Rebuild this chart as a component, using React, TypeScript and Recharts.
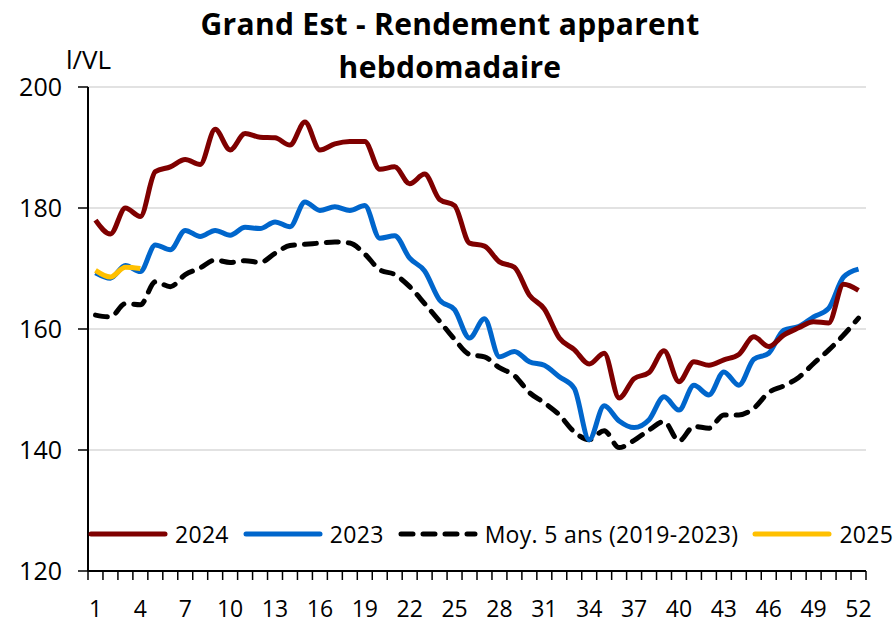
import { CartesianGrid, Line, LineChart, XAxis, YAxis } from 'recharts'

// weeks of the year
const weeks = [
  1, 2, 3, 4, 5, 6, 7, 8, 9, 10, 11, 12, 13, 14, 15, 16, 17, 18, 19, 20, 21, 22, 23, 24, 25, 26,
  27, 28, 29, 30, 31, 32, 33, 34, 35, 36, 37, 38, 39, 40, 41, 42, 43, 44, 45, 46, 47, 48, 49, 50,
  51, 52,
]

const y2024 = [
  178.0, 175.7, 180.0, 178.6, 186.0, 186.8, 188.0, 187.2, 193.0, 189.6, 192.3, 191.7, 191.6,
  190.4, 194.2, 189.6, 190.6, 191.0, 191.0, 186.4, 186.8, 184.0, 185.6, 181.4, 180.4, 174.2,
  173.7, 171.1, 170.2, 165.6, 163.3, 158.5, 156.6, 154.2, 156.0, 148.6, 151.8, 152.8, 156.4,
  151.3, 154.6, 154.0, 154.9, 155.8, 158.7, 157.1, 159.0, 160.2, 161.2, 161.0, 167.4, 166.4,
]

const y2023 = [
  169.3, 168.4, 170.5, 169.5, 173.9, 173.1, 176.3, 175.3, 176.3, 175.5, 176.8, 176.6, 177.7,
  176.9, 181.0, 179.6, 180.2, 179.6, 180.4, 175.0, 175.4, 171.7, 169.6, 164.8, 163.2, 158.5,
  161.7, 155.4, 156.3, 154.6, 154.0, 152.1, 150.2, 141.7, 147.3, 144.8, 143.7, 145.0, 148.8,
  146.6, 150.7, 149.1, 152.9, 150.7, 155.0, 156.0, 159.8, 160.4, 162.0, 163.4, 168.6, 169.9,
]

const avg5y = [
  162.3, 162.0, 164.2, 164.0, 167.8, 167.0, 169.0, 170.1, 171.4, 171.0, 171.3, 171.0, 172.5,
  173.8, 174.0, 174.2, 174.4, 174.2, 172.4, 169.8, 169.0, 167.0, 164.2, 161.3, 158.3, 155.8,
  155.4, 153.6, 152.3, 149.5, 147.8, 145.8, 143.0, 141.7, 143.2, 140.4, 141.6, 143.3, 144.7,
  141.5, 143.9, 143.6, 145.8, 145.8, 146.9, 149.5, 150.6, 152.0, 154.3, 156.5, 159.0, 161.8,
]

const y2025 = [169.7, 168.6, 170.2, 170.0]

const weekTicks = [1, 4, 7, 10, 13, 16, 19, 22, 25, 28, 31, 34, 37, 40, 43, 46, 49, 52]
const weekBounds = [
  0.5, 1.5, 2.5, 3.5, 4.5, 5.5, 6.5, 7.5, 8.5, 9.5, 10.5, 11.5, 12.5, 13.5, 14.5, 15.5, 16.5,
  17.5, 18.5, 19.5, 20.5, 21.5, 22.5, 23.5, 24.5, 25.5, 26.5, 27.5, 28.5, 29.5, 30.5, 31.5,
  32.5, 33.5, 34.5, 35.5, 36.5, 37.5, 38.5, 39.5, 40.5, 41.5, 42.5, 43.5, 44.5, 45.5, 46.5,
  47.5, 48.5, 49.5, 50.5, 51.5, 52.5,
]
const yTicks = [120, 140, 160, 180, 200]

const data = weeks.map((w, i) => ({
  week: w,
  y2024: y2024[i],
  y2023: y2023[i],
  avg: avg5y[i],
  y2025: i < y2025.length ? y2025[i] : null,
}))

const FONT = '"Open Sans", Lato, sans-serif'

const legendItems = [
  { label: '2024', color: '#7f0000', dashed: false },
  { label: '2023', color: '#0066cc', dashed: false },
  { label: 'Moy. 5 ans (2019-2023)', color: '#000000', dashed: true },
  { label: '2025', color: '#ffc000', dashed: false },
]

function ChartLegend() {
  return (
    <div
      style={{
        position: 'absolute',
        left: 87,
        top: 518,
        height: 32,
        display: 'flex',
        alignItems: 'center',
        fontFamily: FONT,
        fontSize: 23,
        letterSpacing: 0.3,
        color: '#000',
        whiteSpace: 'nowrap',
      }}
    >
      {legendItems.map((it) => (
        <div key={it.label} style={{ display: 'flex', alignItems: 'center', marginRight: 13 }}>
          <svg width={82} height={10} style={{ marginRight: 6 }}>
            <line
              x1={4}
              y1={5}
              x2={78}
              y2={5}
              stroke={it.color}
              strokeWidth={5}
              strokeLinecap="round"
              strokeDasharray={it.dashed ? '12 10' : undefined}
            />
          </svg>
          <span>{it.label}</span>
        </div>
      ))}
    </div>
  )
}

export default function App() {
  return (
    <div
      style={{
        position: 'absolute',
        left: 0,
        top: 0,
        width: 893,
        height: 624,
        background: '#fff',
        fontFamily: FONT,
      }}
    >
      <div
        style={{
          position: 'absolute',
          left: 0,
          width: 900,
          top: 2,
          textAlign: 'center',
          fontWeight: 700,
          fontSize: 30,
          letterSpacing: 0.3,
          lineHeight: '43px',
          color: '#000',
        }}
      >
        Grand Est - Rendement apparent
        <br />
        hebdomadaire
      </div>
      <div
        style={{ position: 'absolute', left: 66, top: 41, fontSize: 26, color: '#000' }}
      >
        l/VL
      </div>
      <LineChart
        width={893}
        height={624}
        data={data}
        margin={{ top: 87, right: 27, left: 18, bottom: 0 }}
      >
        <CartesianGrid
          xAxisId="lbl"
          vertical={false}
          stroke="#d9d9d9"
          strokeWidth={1.5}
        />
        <XAxis
          xAxisId="grid"
          dataKey="week"
          type="number"
          domain={[0.5, 52.5]}
          ticks={weekBounds}
          interval={0}
          tickFormatter={() => ''}
          tickSize={9}
          height={1}
          axisLine={{ stroke: '#000', strokeWidth: 2 }}
          tickLine={{ stroke: '#000', strokeWidth: 1.5 }}
        />
        <XAxis
          xAxisId="lbl"
          dataKey="week"
          type="number"
          domain={[0.5, 52.5]}
          ticks={weekTicks}
          interval={0}
          axisLine={false}
          tickLine={false}
          tickSize={0}
          tickMargin={29}
          height={52}
          tick={{ fill: '#000', fontSize: 23, fontFamily: FONT }}
        />
        <YAxis
          domain={[120, 200]}
          ticks={yTicks}
          interval={0}
          width={70}
          tickSize={10}
          tickMargin={16}
          axisLine={{ stroke: '#000', strokeWidth: 2 }}
          tickLine={{ stroke: '#000', strokeWidth: 1.5 }}
          tick={{ fill: '#000', fontSize: 25, fontFamily: FONT }}
        />
        <Line
          xAxisId="lbl"
          type="monotone"
          dataKey="avg"
          stroke="#000"
          strokeWidth={5}
          strokeDasharray="12 10"
          strokeLinecap="round"
          dot={false}
          isAnimationActive={false}
        />
        <Line
          xAxisId="lbl"
          type="monotone"
          dataKey="y2023"
          stroke="#0066cc"
          strokeWidth={5}
          dot={false}
          isAnimationActive={false}
        />
        <Line
          xAxisId="lbl"
          type="monotone"
          dataKey="y2024"
          stroke="#7f0000"
          strokeWidth={5}
          dot={false}
          isAnimationActive={false}
        />
        <Line
          xAxisId="lbl"
          type="monotone"
          dataKey="y2025"
          stroke="#ffc000"
          strokeWidth={5}
          dot={false}
          connectNulls={false}
          isAnimationActive={false}
        />
      </LineChart>
      <ChartLegend />
    </div>
  )
}
